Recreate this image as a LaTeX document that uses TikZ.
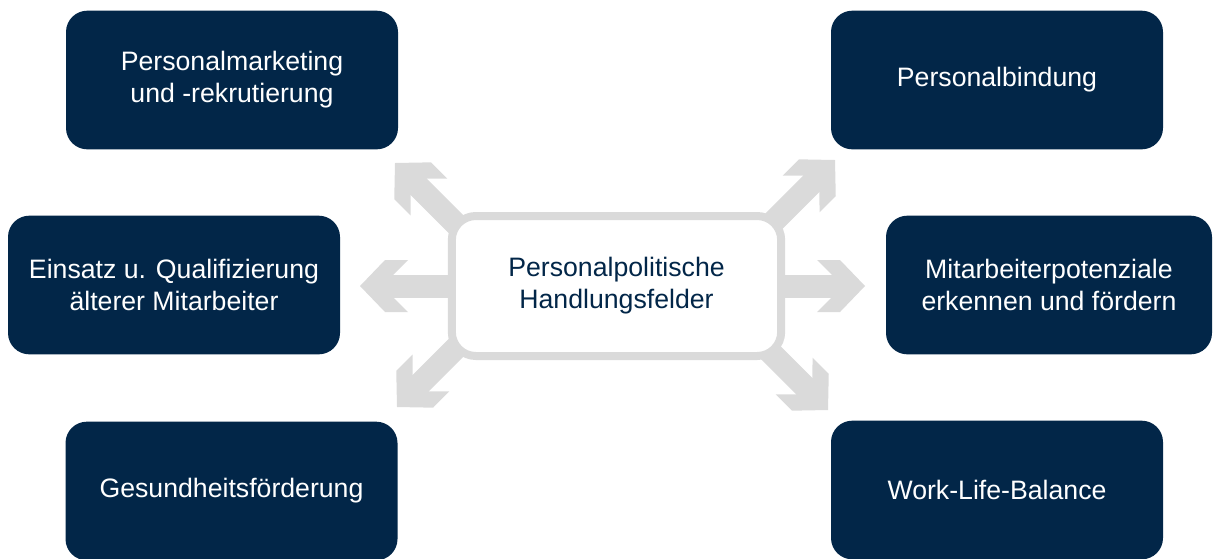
\documentclass[tikz,border=0pt]{standalone}
\usepackage{fontspec}
\setmainfont{Liberation Sans}
\usepackage{tikz}
\usetikzlibrary{arrows.meta,backgrounds}

\definecolor{dunkelblau}{RGB}{2,38,72}
\definecolor{hellgrau}{RGB}{218,218,218}

% breite Pfeilspitze
\pgfdeclarearrow{
  name = Keil,
  setup code = {
    \pgfarrowssettipend{0pt}
    \pgfarrowssetlineend{-20pt}
    \pgfarrowssetbackend{-36pt}
    \pgfarrowshullpoint{0pt}{0pt}
    \pgfarrowshullpoint{-36pt}{19.5pt}
    \pgfarrowshullpoint{-36pt}{-19.5pt}
  },
  drawing code = {
    \pgfpathmoveto{\pgfqpoint{0pt}{0pt}}
    \pgfpathlineto{\pgfqpoint{-18.75pt}{19.5pt}}
    \pgfpathlineto{\pgfqpoint{-36pt}{19.5pt}}
    \pgfpathlineto{\pgfqpoint{-25.1pt}{8.6pt}}
    \pgfpathlineto{\pgfqpoint{-25.1pt}{-8.6pt}}
    \pgfpathlineto{\pgfqpoint{-36pt}{-19.5pt}}
    \pgfpathlineto{\pgfqpoint{-18.75pt}{-19.5pt}}
    \pgfpathclose
    \pgfusepathqfill
  },
}

\tikzset{
  feld/.style={rectangle, rounded corners=16pt, fill=dunkelblau, text=white,
    minimum width=249pt, minimum height=104pt, inner sep=0pt, align=center,
    font=\fontsize{20}{24}\selectfont},
  mitte/.style={rectangle, rounded corners=18pt, draw=hellgrau, line width=6pt,
    fill=white, text=dunkelblau, minimum width=247pt, minimum height=105pt,
    inner sep=0pt, align=center, font=\fontsize{20}{24}\selectfont},
  pfeil/.style={draw=hellgrau, fill=hellgrau, line width=17.25pt, -Keil},
}

\begin{document}
\begin{tikzpicture}[x=0.75pt,y=-0.75pt]
\useasboundingbox (0,0) rectangle (1213,558);

\node[mitte] (hub) at (616.5,286) {Personalpolitische\\Handlungsfelder};

\node[feld] (marketing) at (232,80) {Personalmarketing\\und -rekrutierung};
\node[feld] (bindung) at (997,80) {Personalbindung};
\node[feld] (einsatz) at (174,285) {Einsatz u. Qualifizierung\\älterer Mitarbeiter};
\node[feld,minimum width=244.5pt] (potenziale) at (1049,285) {Mitarbeiterpotenziale\\erkennen und fördern};
\node[feld] (gesundheit) at (231.5,491) {Gesundheitsförderung};
\node[feld] (balance) at (997,490) {Work-Life-Balance};

\coordinate (spitzeL) at (360,286);
\coordinate (spitzeR) at (865,286);
\coordinate (spitzeOL) at (395,163);
\coordinate (spitzeOR) at (835,160);
\coordinate (spitzeUL) at (397,407);
\coordinate (spitzeUR) at (828,410);

\begin{scope}[on background layer]
\draw[pfeil] (hub.center) -- (spitzeL);
\draw[pfeil] (hub.center) -- (spitzeR);
\draw[pfeil] ([shift={(32,36)}]hub.north west) -- (spitzeOL);
\draw[pfeil] ([shift={(-35,33)}]hub.north east) -- (spitzeOR);
\draw[pfeil] ([shift={(34,-38)}]hub.south west) -- (spitzeUL);
\draw[pfeil] ([shift={(-42,-35)}]hub.south east) -- (spitzeUR);
\end{scope}
\end{tikzpicture}
\end{document}
